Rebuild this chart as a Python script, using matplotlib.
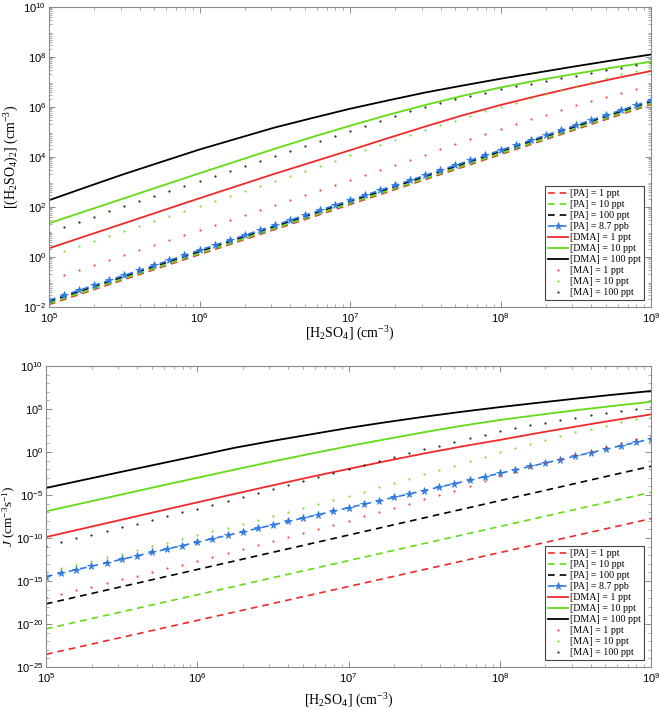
import numpy as np
import matplotlib
matplotlib.use("Agg")
import matplotlib.pyplot as plt
from matplotlib.ticker import LogLocator, FuncFormatter, NullFormatter, FixedLocator

plt.rcParams['font.family'] = ['Liberation Serif', 'DejaVu Serif']
plt.rcParams['mathtext.fontset'] = 'custom'
plt.rcParams['mathtext.rm'] = 'Liberation Serif'
plt.rcParams['mathtext.it'] = 'Liberation Serif:italic'
plt.rcParams['mathtext.sf'] = 'Liberation Sans'

# ---------------- data (log10 values) ----------------
# x grid: [H2SO4] exponents for marker series (every 0.1 decade)
x_exp_markers = np.linspace(5, 9, 41)
# x grid for smooth lines (every 0.25 decade)
x_exp_lines = np.linspace(5, 9, 17)
# x grid for straight PA lines
x_exp_pa = [5, 6, 7, 8, 9]

labels = ['[PA] = 1 ppt', '[PA] = 10 ppt', '[PA] = 100 ppt', '[PA] = 8.7 ppb',
          '[DMA] = 1 ppt', '[DMA] = 10 ppt', '[DMA] = 100 ppt',
          '[MA] = 1 ppt', '[MA] = 10 ppt', '[MA] = 100 ppt']

# ---- top panel: [(H2SO4)2] ----
top_pa1 = [-1.90, 0.10, 2.10, 4.10, 6.10]
top_pa10 = [-1.86, 0.14, 2.14, 4.14, 6.14]
top_pa100 = [-1.78, 0.22, 2.22, 4.22, 6.22]
top_pa87 = [-1.73, -1.53, -1.33, -1.13, -0.93, -0.73, -0.53, -0.33, -0.13, 0.07,
            0.27, 0.47, 0.67, 0.87, 1.07, 1.27, 1.47, 1.67, 1.87, 2.07,
            2.27, 2.47, 2.67, 2.87, 3.07, 3.27, 3.47, 3.67, 3.87, 4.07,
            4.27, 4.47, 4.67, 4.87, 5.07, 5.27, 5.47, 5.67, 5.87, 6.07, 6.27]
top_dma1 = [0.35, 0.85, 1.35, 1.85, 2.35, 2.84, 3.33, 3.80, 4.27,
            4.75, 5.22, 5.67, 6.08, 6.45, 6.80, 7.13, 7.44]
top_dma10 = [1.35, 1.85, 2.35, 2.85, 3.35, 3.84, 4.33, 4.80, 5.25,
             5.68, 6.08, 6.45, 6.78, 7.07, 7.33, 7.58, 7.81]
top_dma100 = [2.27, 2.80, 3.32, 3.81, 4.30, 4.74, 5.18, 5.56, 5.93,
              6.26, 6.58, 6.86, 7.13, 7.38, 7.63, 7.87, 8.10]
top_ma1 = [-0.93, -0.73, -0.53, -0.33, -0.13, 0.07, 0.28, 0.48, 0.68, 0.88,
           1.09, 1.29, 1.49, 1.69, 1.89, 2.09, 2.29, 2.49, 2.69, 2.89,
           3.10, 3.30, 3.50, 3.70, 3.90, 4.10, 4.31, 4.51, 4.71, 4.92,
           5.12, 5.32, 5.51, 5.70, 5.89, 6.07, 6.25, 6.42, 6.58, 6.73, 6.87]
top_ma10 = [0.05, 0.25, 0.45, 0.65, 0.85, 1.05, 1.25, 1.45, 1.65, 1.85,
            2.06, 2.26, 2.46, 2.66, 2.86, 3.06, 3.26, 3.46, 3.66, 3.86,
            4.07, 4.27, 4.47, 4.67, 4.87, 5.07, 5.27, 5.46, 5.65, 5.83,
            6.00, 6.18, 6.35, 6.52, 6.69, 6.85, 7.01, 7.16, 7.31, 7.46, 7.60]
top_ma100 = [1.02, 1.22, 1.42, 1.62, 1.83, 2.03, 2.23, 2.43, 2.64, 2.84,
             3.05, 3.25, 3.45, 3.65, 3.85, 4.05, 4.25, 4.45, 4.65, 4.85,
             5.05, 5.25, 5.45, 5.64, 5.83, 6.00, 6.16, 6.31, 6.45, 6.58,
             6.71, 6.83, 6.94, 7.05, 7.16, 7.26, 7.37, 7.47, 7.57, 7.67, 7.77]

# ---- bottom panel: J ----
bot_pa1 = [-23.53, -19.58, -15.64, -11.70, -7.75]
bot_pa10 = [-20.57, -16.60, -12.63, -8.66, -4.69]
bot_pa100 = [-17.66, -13.66, -9.66, -5.66, -1.66]
bot_pa87 = [-14.48, -14.08, -13.68, -13.28, -12.88, -12.48, -12.08, -11.68, -11.28, -10.88,
            -10.48, -10.08, -9.68, -9.28, -8.88, -8.48, -8.08, -7.68, -7.28, -6.88,
            -6.48, -6.08, -5.68, -5.28, -4.88, -4.48, -4.08, -3.68, -3.28, -2.88,
            -2.48, -2.08, -1.68, -1.28, -0.88, -0.48, -0.08, 0.32, 0.72, 1.12, 1.52]
bot_dma1 = [-9.89, -8.88, -7.87, -6.86, -5.86, -4.86, -3.87, -2.90, -1.97,
            -1.05, -0.17, 0.65, 1.40, 2.20, 2.95, 3.68, 4.37]
bot_dma10 = [-6.90, -5.92, -4.94, -3.96, -3.00, -2.04, -1.10, -0.20, 0.68,
             1.50, 2.30, 3.05, 3.72, 4.30, 4.85, 5.36, 5.84]
bot_dma100 = [-4.18, -3.24, -2.30, -1.37, -0.44, 0.50, 1.30, 2.05, 2.80,
              3.47, 4.10, 4.68, 5.22, 5.72, 6.20, 6.66, 7.09]
bot_ma1 = [-16.90, -16.48, -16.06, -15.64, -15.22, -14.80, -14.38, -13.96, -13.54, -13.12,
           -12.70, -12.23, -11.76, -11.29, -10.82, -10.35, -9.87, -9.40, -8.93, -8.46,
           -7.99, -7.49, -6.99, -6.49, -5.99, -5.49, -4.99, -4.49, -3.93, -3.36,
           -2.80, -2.27, -1.76, -1.26, -0.78, -0.30, 0.15, 0.60, 1.04, 1.47, 1.90]
bot_ma10 = [-13.97, -13.54, -13.11, -12.68, -12.25, -11.83, -11.40, -10.97, -10.55, -10.12,
            -9.70, -9.24, -8.78, -8.32, -7.86, -7.40, -6.94, -6.48, -6.02, -5.56,
            -5.10, -4.60, -4.10, -3.60, -3.10, -2.60, -2.10, -1.60, -1.07, -0.53,
            0.00, 0.50, 0.98, 1.44, 1.88, 2.30, 2.70, 3.08, 3.44, 3.78, 4.10]
bot_ma100 = [-10.90, -10.47, -10.04, -9.61, -9.18, -8.75, -8.32, -7.89, -7.46, -7.03,
             -6.60, -6.14, -5.68, -5.22, -4.76, -4.30, -3.84, -3.38, -2.92, -2.46,
             -2.00, -1.54, -1.08, -0.62, -0.16, 0.30, 0.74, 1.17, 1.59, 2.00,
             2.40, 2.76, 3.10, 3.42, 3.72, 4.00, 4.26, 4.50, 4.73, 4.96, 5.18]

RED = '#f02a2a'
GREEN = '#62dc14'
BLACK = '#000000'
BLUE = '#2f7ae0'
AXC = '#8a8a8a'


def p10(a):
    return 10.0 ** np.asarray(a, dtype=float)


fig = plt.figure(figsize=(6.61, 7.11), dpi=100)
ax1 = fig.add_axes([49 / 661, (711 - 307) / 711, 602 / 661, 300 / 711])
ax2 = fig.add_axes([46 / 661, (711 - 667) / 711, 605 / 661, 301 / 711])

dash = (0, (4, 3))


def draw(ax, pa1, pa10, pa100, pa87, d1, d10, d100, m1, m10, m100):
    xm = p10(x_exp_markers)
    xl = p10(x_exp_lines)
    xp = p10(x_exp_pa)
    h = []
    h += ax.plot(xp, p10(pa1), color=RED, lw=1.2, ls=dash)
    h += ax.plot(xp, p10(pa10), color=GREEN, lw=1.2, ls=dash)
    h += ax.plot(xp, p10(pa100), color=BLACK, lw=1.2, ls=dash)
    h += ax.plot(xm, p10(pa87), color=BLUE, lw=1.2, ls=dash, marker='*',
                 markersize=5.5, markeredgewidth=0.6)
    h += ax.plot(xl, p10(d1), color=RED, lw=1.3)
    h += ax.plot(xl, p10(d10), color=GREEN, lw=1.3)
    h += ax.plot(xl, p10(d100), color=BLACK, lw=1.3)
    h += ax.plot(xm, p10(m1), color=RED, ls='none', marker='.', markersize=1.0)
    h += ax.plot(xm, p10(m10), color=GREEN, ls='none', marker='.', markersize=1.0)
    h += ax.plot(xm, p10(m100), color=BLACK, ls='none', marker='.', markersize=1.0)
    return h


def decades(lo, hi, step):
    return FixedLocator([10.0 ** e for e in range(lo, hi + 1, step)])


def style(ax, ymin, ymax, step):
    ax.set_xscale('log')
    ax.set_yscale('log')
    ax.set_xlim(1e5, 1e9)
    ax.set_ylim(10.0 ** ymin, 10.0 ** ymax)
    for sp in ax.spines.values():
        sp.set_color(AXC)
        sp.set_linewidth(0.8)
    fmt = FuncFormatter(lambda v, p: r'$\mathsf{10^{%d}}$' % int(round(np.log10(v))))
    ax.xaxis.set_major_locator(LogLocator(base=10, numticks=20))
    ax.xaxis.set_minor_locator(LogLocator(base=10, subs=np.arange(2, 10), numticks=50))
    ax.xaxis.set_major_formatter(fmt)
    ax.xaxis.set_minor_formatter(NullFormatter())
    ax.yaxis.set_major_locator(decades(ymin, ymax, step))
    if step == 2:
        ax.yaxis.set_minor_locator(LogLocator(base=10, subs=np.arange(2, 10), numticks=100))
    else:
        ax.yaxis.set_minor_locator(decades(ymin, ymax, 1))
    ax.yaxis.set_major_formatter(fmt)
    ax.yaxis.set_minor_formatter(NullFormatter())
    ax.tick_params(which='both', direction='in', top=True, right=True, color=AXC,
                   labelsize=8, labelcolor='black', pad=3)
    ax.tick_params(axis='y', which='major', pad=2)
    ax.tick_params(which='major', length=4, width=0.7)
    ax.tick_params(which='minor', length=2.2, width=0.5)


h1 = draw(ax1, top_pa1, top_pa10, top_pa100, top_pa87, top_dma1, top_dma10, top_dma100,
          top_ma1, top_ma10, top_ma100)
style(ax1, -2, 10, 2)
ax1.set_xlabel(r'[H$_2$SO$_4$] (cm$^{-3}$)', fontsize=10, labelpad=0)
ax1.set_ylabel(r'[(H$_2$SO$_4$)$_2$] (cm$^{-3}$)', fontsize=10)
ax1.yaxis.set_label_coords(-0.047, 0.5)

h2 = draw(ax2, bot_pa1, bot_pa10, bot_pa100, bot_pa87, bot_dma1, bot_dma10, bot_dma100,
          bot_ma1, bot_ma10, bot_ma100)
style(ax2, -25, 10, 5)
ax2.set_xlabel(r'[H$_2$SO$_4$] (cm$^{-3}$)', fontsize=10, labelpad=5)
ax2.set_ylabel(r'$J$ (cm$^{-3}$s$^{-1}$)', fontsize=9.5)
ax2.yaxis.set_label_coords(-0.046, 0.5)

for ax, h in ((ax1, h1), (ax2, h2)):
    leg = ax.legend(h, labels, loc='lower right', fontsize=7.2, frameon=True,
                    fancybox=False, framealpha=1, edgecolor='#444444',
                    handlelength=2.0, handletextpad=0.2, labelspacing=0.2,
                    borderpad=0.3, borderaxespad=0.7, markerscale=1.0)
    leg.get_frame().set_linewidth(0.8)

fig.savefig('out.png', dpi=100)
